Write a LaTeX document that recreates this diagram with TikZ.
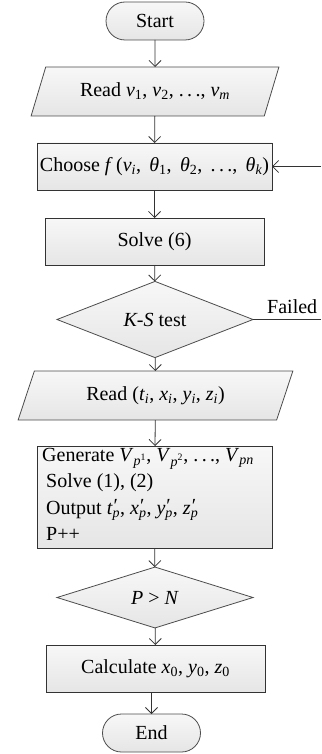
\documentclass[tikz,border=0pt]{standalone}
\usepackage{fontspec}
\setmainfont{Liberation Serif}
\usetikzlibrary{shapes.geometric,arrows.meta}
% italic variable, subscript and superscript in the text font
\newcommand\iv[1]{\textit{#1}}
\newcommand\sbs[1]{\textsubscript{#1}}
\newcommand\sps[1]{\textsuperscript{#1}}
\newcommand\dotsep{.\,.\,.}
% primed variable with a subscript p below the prime
\newcommand\pv[1]{\iv{#1}\rlap{\kern1pt\raisebox{1.5pt}{′}}\sbs{\iv{p}}}
\begin{document}
\begin{tikzpicture}[x=1pt,y=-1pt,
  every node/.style={font=\fontsize{20}{26.5}\selectfont, text=black},
  shade/.style={top color=white!97!black, bottom color=white!90!black},
  terminal/.style={draw=black!70, line width=0.8pt, shade, rounded corners=19pt,
    minimum width=98pt, minimum height=38pt, outer sep=0pt, inner sep=0pt},
  iobox/.style={draw=black!70, line width=0.8pt, shade, trapezium,
    trapezium stretches=true, outer sep=0pt, inner sep=0pt},
  procbox/.style={draw=black!80, line width=0.9pt, shade, rectangle,
    outer sep=0pt, inner sep=0pt},
  decision/.style={draw=black!70, line width=0.8pt, shade, diamond,
    minimum width=196pt, minimum height=59pt, outer sep=0pt, inner sep=0pt},
  flow/.style={draw=black!80, line width=0.8pt, -{Straight Barb[length=6pt,width=12pt]}}
]
\useasboundingbox (0,0) rectangle (321,754);

\node[terminal] (start) at (155,21) {Start};
\node[iobox, trapezium left angle=59.4, trapezium right angle=120.6,
      minimum width=248pt, minimum height=49pt] (read1) at (155,91.5)
  {Read \iv{v}\sbs{1}, \iv{v}\sbs{2}, \dotsep, \iv{v}\sbs{\iv{m}}};
\node[procbox, minimum width=235pt, minimum height=47pt] (choose) at (154.5,166.5)
  {Choose \iv{f}\,(\iv{v}\sbs{\iv{i}},\, \iv{θ}\sbs{1},\, \iv{θ}\sbs{2},\, \dotsep,\, \iv{θ}\sbs{\iv{k}})};
\node[procbox, minimum width=219pt, minimum height=47pt] (solve) at (154.5,241.5)
  {Solve (6)};
\node[decision] (ks) at (155,319.5) {\iv{K-S} test};
\node[iobox, trapezium left angle=63, trapezium right angle=117,
      minimum width=275pt, minimum height=49pt] (read2) at (155.5,395.5)
  {Read (\iv{t}\sbs{\iv{i}}, \iv{x}\sbs{\iv{i}}, \iv{y}\sbs{\iv{i}}, \iv{z}\sbs{\iv{i}})};
\node[procbox, minimum width=235pt, minimum height=102pt] (gen) at (154.5,497) {};
\node[anchor=north west, align=left, inner sep=0pt] (gentext) at (42,448)
  {Generate \iv{V}\sbs{\iv{p}\sps{1}}, \iv{V}\sbs{\iv{p}\sps{2}}, \dotsep, \iv{V}\sbs{\iv{pn}}\\
   \hspace{4pt}Solve (1), (2)\\
   \hspace{4pt}Output \pv{t}, \pv{x}, \pv{y}, \pv{z}\\
   \hspace{4pt}P++};
\node[decision] (pn) at (155,597.5) {\iv{P} > \iv{N}};
\node[procbox, minimum width=219pt, minimum height=47pt] (calc) at (155.5,668.5)
  {Calculate \iv{x}\sbs{0}, \iv{y}\sbs{0}, \iv{z}\sbs{0}};
\node[terminal] (end) at (151.5,733) {End};

% loop-back entry on the right and the failure exit
\coordinate (loopin) at (321,166.5);
\coordinate (failout) at (321,319.5);
\node[anchor=south west, inner sep=0pt] (failed) at (267,314) {Failed};

\draw[flow] (start) -- (read1);
\draw[flow] (read1) -- (choose);
\draw[flow] (choose) -- (solve);
\draw[flow] (solve) -- (ks);
\draw[flow] (ks) -- (read2);
\draw[flow] (read2) -- (gen);
\draw[flow] (gen) -- (pn);
\draw[flow] (pn) -- (calc);
\draw[flow] (calc.south -| end) -- (end);
\draw[flow] (loopin) -- (choose.east);
\draw[draw=black!80, line width=0.8pt] (ks.east) -- (failout);
\end{tikzpicture}
\end{document}
